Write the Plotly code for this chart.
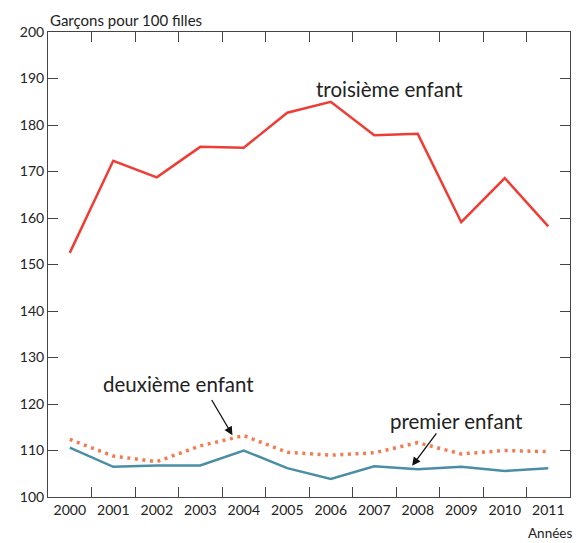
import plotly.graph_objects as go

years = ["2000", "2001", "2002", "2003", "2004", "2005", "2006", "2007", "2008", "2009", "2010", "2011"]
troisieme = [152.5, 172.3, 168.75, 175.3, 175.1, 182.65, 185.0, 177.8, 178.1, 159.1, 168.6, 158.2]
deuxieme = [112.4, 108.8, 107.6, 111.0, 113.2, 109.6, 109.0, 109.5, 111.7, 109.25, 110.0, 109.75]
premier = [110.6, 106.5, 106.8, 106.8, 110.0, 106.2, 103.9, 106.6, 105.95, 106.5, 105.6, 106.2]

FONT = "Lato"
fig = go.Figure()
fig.add_trace(go.Scatter(x=years, y=troisieme, mode="lines",
                         line=dict(color="#ee3d35", width=2.5), name="troisième enfant"))
fig.add_trace(go.Scatter(x=years, y=deuxieme, mode="lines",
                         line=dict(color="#f47a50", width=3.5, dash="3px,4.6px"), name="deuxième enfant"))
fig.add_trace(go.Scatter(x=years, y=premier, mode="lines",
                         line=dict(color="#4a8ea6", width=2.5), name="premier enfant"))

axis_common = dict(showline=True, linecolor="#444", linewidth=1, mirror="ticks",
                   ticks="inside", ticklen=10, tickcolor="#444", showgrid=False,
                   zeroline=False, tickfont=dict(family=FONT, size=14, color="#222"))
fig.update_xaxes(type="category", range=[-0.5, 11.5], tickson="boundaries", **axis_common)
fig.update_yaxes(range=[100, 200], dtick=10, **axis_common)

ann_font = dict(family=FONT, size=20.5, color="#222")
fig.add_annotation(x=7.34, y=187.7, xref="x", yref="y", text="troisième enfant",
                   showarrow=False, font=ann_font)
fig.add_annotation(x=2.5, y=124.3, xref="x", yref="y", text="deuxième enfant",
                   showarrow=False, font=ann_font)
fig.add_annotation(x=8.9, y=116.4, xref="x", yref="y", text="premier enfant",
                   showarrow=False, font=ann_font)
fig.add_annotation(x=3.74, y=113.3, xref="x", yref="y", ax=-21.6, ay=-36.7,
                   showarrow=True, arrowhead=2, arrowsize=1.3, arrowwidth=1.3, arrowcolor="#111", text="")
fig.add_annotation(x=7.87, y=106.7, xref="x", yref="y", ax=25.4, ay=-34,
                   showarrow=True, arrowhead=2, arrowsize=1.3, arrowwidth=1.3, arrowcolor="#111", text="")
fig.add_annotation(x=0, y=1, xref="paper", yref="paper", xanchor="left", yanchor="bottom",
                   yshift=1, text="Garçons pour 100 filles", showarrow=False,
                   font=dict(family=FONT, size=15, color="#222"))
fig.add_annotation(x=1, y=0, xref="paper", yref="paper", xanchor="right", yanchor="middle",
                   xshift=4, yshift=-36, text="Années", showarrow=False,
                   font=dict(family=FONT, size=13.5, color="#222"))

# The page body has an 8px margin; size the figure so the plot area lands where the reference has it.
fig.update_layout(width=577, height=535, margin=dict(l=40, r=15, t=24, b=46),
                  plot_bgcolor="white", paper_bgcolor="white", showlegend=False)
fig.write_html("out.html")
